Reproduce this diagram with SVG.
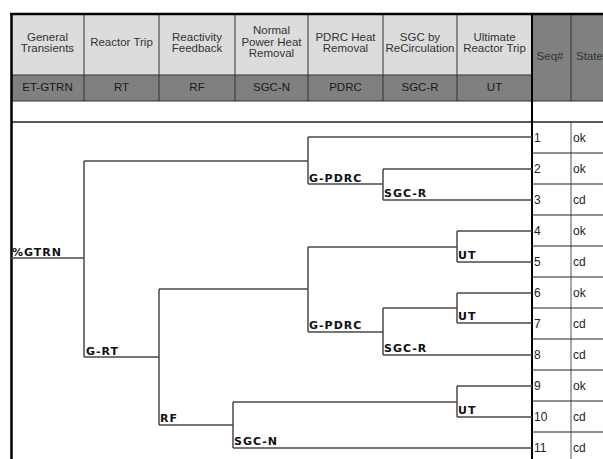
<svg xmlns="http://www.w3.org/2000/svg" width="603" height="459" viewBox="0 0 603 459">
<style>
.hd{font-family:"Liberation Sans",Arial,sans-serif;font-size:11.5px;fill:#333;text-anchor:middle}
.hd2{font-family:"Liberation Sans",Arial,sans-serif;font-size:11.5px;fill:#1a1a1a;text-anchor:middle}
.lb{font-family:"DejaVu Sans",Verdana,sans-serif;font-size:11px;font-weight:bold;fill:#111;letter-spacing:1px}
.sq{font-family:"Liberation Sans",Arial,sans-serif;font-size:12px;fill:#222}
.br{fill:none;stroke:#4a4a4a;stroke-width:1.5}
.sep{stroke:#333;stroke-width:1}
</style>
<rect width="603" height="459" fill="#fff"/>
<g id="header">
<rect x="11" y="14" width="521" height="61" fill="#dcdcdc"/>
<rect x="11" y="75" width="521" height="26" fill="#808080"/>
<rect x="532" y="14" width="71" height="87" fill="#808080"/>
<g class="sep">
<line x1="84" y1="14" x2="84" y2="101"/>
<line x1="159" y1="14" x2="159" y2="101"/>
<line x1="235" y1="14" x2="235" y2="101"/>
<line x1="308" y1="14" x2="308" y2="101"/>
<line x1="383" y1="14" x2="383" y2="101"/>
<line x1="457" y1="14" x2="457" y2="101"/>
<line x1="571" y1="14" x2="571" y2="101"/>
<line x1="11" y1="75" x2="532" y2="75"/>
<line x1="11" y1="101" x2="603" y2="101"/>
</g>
<text class="hd" x="47.5" y="41">General</text>
<text class="hd" x="47.5" y="52">Transients</text>
<text class="hd" x="121.5" y="46">Reactor Trip</text>
<text class="hd" x="197" y="41">Reactivity</text>
<text class="hd" x="197" y="52">Feedback</text>
<text class="hd" x="271.5" y="34">Normal</text>
<text class="hd" x="271.5" y="45.5">Power Heat</text>
<text class="hd" x="271.5" y="57">Removal</text>
<text class="hd" x="345.5" y="41">PDRC Heat</text>
<text class="hd" x="345.5" y="52">Removal</text>
<text class="hd" x="420" y="41">SGC by</text>
<text class="hd" x="420" y="52">ReCirculation</text>
<text class="hd" x="494.5" y="41">Ultimate</text>
<text class="hd" x="494.5" y="52">Reactor Trip</text>
<text class="hd" x="550" y="60">Seq#</text>
<text class="hd" x="576" y="60" style="text-anchor:start">State</text>
<text class="hd2" x="47.5" y="91">ET-GTRN</text>
<text class="hd2" x="121.5" y="91">RT</text>
<text class="hd2" x="197" y="91">RF</text>
<text class="hd2" x="271.5" y="91">SGC-N</text>
<text class="hd2" x="345.5" y="91">PDRC</text>
<text class="hd2" x="420" y="91">SGC-R</text>
<text class="hd2" x="494.5" y="91">UT</text>
</g>
<g id="frame">
<line x1="11" y1="122" x2="603" y2="122" stroke="#222" stroke-width="1.5"/>
<line x1="10" y1="14" x2="603" y2="14" stroke="#000" stroke-width="2.5"/>
<line x1="11.5" y1="13" x2="11.5" y2="459" stroke="#000" stroke-width="2.5"/>
<line x1="532" y1="13" x2="532" y2="459" stroke="#000" stroke-width="2"/>
<line x1="571" y1="122" x2="571" y2="459" stroke="#555" stroke-width="1"/>
<g stroke="#222" stroke-width="1">
<line x1="532" y1="153" x2="603" y2="153"/>
<line x1="532" y1="184" x2="603" y2="184"/>
<line x1="532" y1="215" x2="603" y2="215"/>
<line x1="532" y1="246" x2="603" y2="246"/>
<line x1="532" y1="277" x2="603" y2="277"/>
<line x1="532" y1="308" x2="603" y2="308"/>
<line x1="532" y1="339" x2="603" y2="339"/>
<line x1="532" y1="370" x2="603" y2="370"/>
<line x1="532" y1="401" x2="603" y2="401"/>
<line x1="532" y1="432" x2="603" y2="432"/>
</g>
</g>
<g id="connectors">
<path class="br" d="M11 258H84M84 161V357M84 161H308M308 137V184M308 137H532M308 184H383M383 169V200M383 169H532M383 200H532"/>
<path class="br" d="M84 357H159M159 289V425M159 289H308M308 247V332M308 247H457M457 231V262M457 231H532M457 262H532"/>
<path class="br" d="M308 332H383M383 308V355M383 308H457M457 293V323M457 293H532M457 323H532M383 355H532"/>
<path class="br" d="M159 425H233M233 402V448M233 402H457M457 386V417M457 386H532M457 417H532M233 448H532"/>
</g>
<g id="labels">
<text class="lb" x="12" y="256">%GTRN</text>
<text class="lb" x="309" y="182">G-PDRC</text>
<text class="lb" x="384" y="197">SGC-R</text>
<text class="lb" x="458" y="259">UT</text>
<text class="lb" x="309" y="329">G-PDRC</text>
<text class="lb" x="458" y="320">UT</text>
<text class="lb" x="384" y="352">SGC-R</text>
<text class="lb" x="86" y="355">G-RT</text>
<text class="lb" x="160" y="422">RF</text>
<text class="lb" x="234" y="445">SGC-N</text>
<text class="lb" x="458" y="414">UT</text>
</g>
<g id="seq">
<text class="sq" x="534" y="142">1</text><text class="sq" x="573" y="142">ok</text>
<text class="sq" x="534" y="173">2</text><text class="sq" x="573" y="173">ok</text>
<text class="sq" x="534" y="204">3</text><text class="sq" x="573" y="204">cd</text>
<text class="sq" x="534" y="235">4</text><text class="sq" x="573" y="235">ok</text>
<text class="sq" x="534" y="266">5</text><text class="sq" x="573" y="266">cd</text>
<text class="sq" x="534" y="297">6</text><text class="sq" x="573" y="297">ok</text>
<text class="sq" x="534" y="328">7</text><text class="sq" x="573" y="328">cd</text>
<text class="sq" x="534" y="359">8</text><text class="sq" x="573" y="359">cd</text>
<text class="sq" x="534" y="390">9</text><text class="sq" x="573" y="390">ok</text>
<text class="sq" x="534" y="421">10</text><text class="sq" x="573" y="421">cd</text>
<text class="sq" x="534" y="452">11</text><text class="sq" x="573" y="452">cd</text>
</g>
</svg>
